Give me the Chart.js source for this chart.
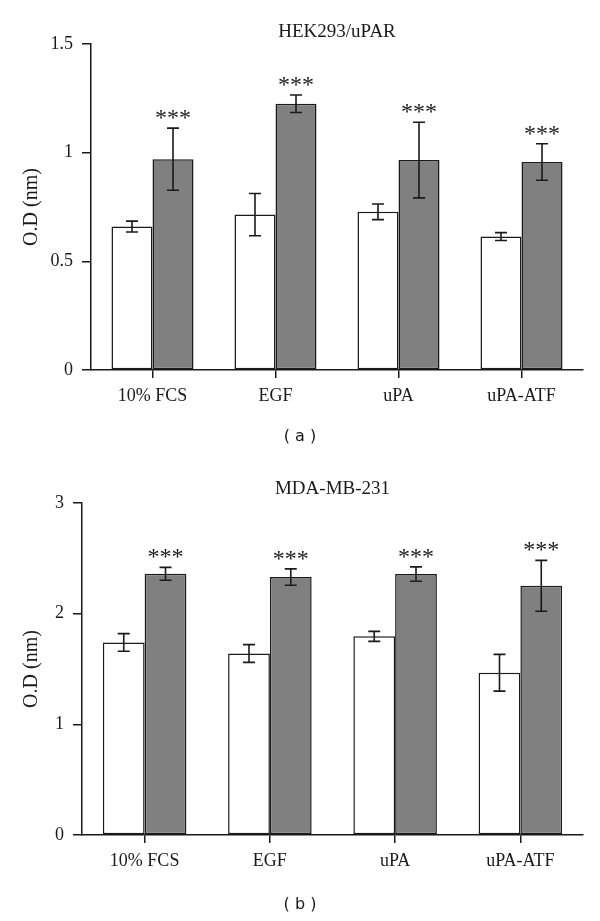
<!DOCTYPE html>
<html lang="en">
<head>
  <meta charset="UTF-8" />
  <title>O.D bars</title>
  <script src="https://cdn.jsdelivr.net/npm/chart.js"></script>
  <style>
    body { margin: 0; padding: 0; background: #fff; }
    .panel { position: relative; width: 600px; }
    canvas { display: block; }
  </style>
</head>
<body>
  <div class="panel"><canvas id="chartA" width="600" height="460"></canvas></div>
  <div class="panel"><canvas id="chartB" width="600" height="461"></canvas></div>

  <script>
    // categories shared by both panels
    const categories = ['10% FCS', 'EGF', 'uPA', 'uPA-ATF'];

    // (a) HEK293/uPAR
    const whiteA = [0.66, 0.715, 0.728, 0.614];
    const whiteErrA = [0.025, 0.097, 0.036, 0.018];
    const grayA = [0.970, 1.225, 0.966, 0.957];
    const grayErrA = [0.143, 0.040, 0.174, 0.084];
    const yTicksA = [0, 0.5, 1, 1.5];

    // (b) MDA-MB-231
    const whiteB = [1.740, 1.640, 1.795, 1.466];
    const whiteErrB = [0.080, 0.080, 0.045, 0.166];
    const grayB = [2.360, 2.331, 2.358, 2.252];
    const grayErrB = [0.058, 0.074, 0.065, 0.230];
    const yTicksB = [0, 1, 2, 3];

    const starLabels = ['***', '***', '***', '***'];

    const ink = '#1a1a1a';
    const serif = "'Liberation Serif', 'DejaVu Serif', serif";

    // error bars, stars, title and panel letter
    const extras = {
      id: 'extras',
      afterDatasetsDraw(chart, args, opts) {
        const ctx = chart.ctx;
        const y = chart.scales.y;
        ctx.save();
        ctx.strokeStyle = ink;
        ctx.lineWidth = 1.6;
        chart.data.datasets.forEach((ds, di) => {
          const meta = chart.getDatasetMeta(di);
          meta.data.forEach((bar, i) => {
            const v = ds.data[i], e = ds.errors[i];
            const top = y.getPixelForValue(v + e);
            const bot = y.getPixelForValue(v - e);
            ctx.beginPath();
            ctx.moveTo(bar.x, top); ctx.lineTo(bar.x, bot);
            ctx.moveTo(bar.x - 6, top); ctx.lineTo(bar.x + 6, top);
            ctx.moveTo(bar.x - 6, bot); ctx.lineTo(bar.x + 6, bot);
            ctx.stroke();
            if (ds.stars) {
              ctx.fillStyle = ink;
              ctx.font = '24px ' + serif;
              ctx.textAlign = 'center';
              ctx.textBaseline = 'alphabetic';
              ctx.fillText(ds.stars[i], bar.x, top - 3);
            }
          });
        });
        const area = chart.chartArea;
        ctx.fillStyle = ink;
        ctx.textAlign = 'center';
        ctx.textBaseline = 'middle';
        ctx.font = '19px ' + serif;
        ctx.fillText(opts.title, (area.left + area.right) / 2, area.top - opts.titleGap);
        ctx.font = "16px 'DejaVu Sans', sans-serif";
        ctx.fillText(opts.panel, 300, opts.panelY);
        ctx.restore();
      }
    };

    function makeChart(id, white, whiteErr, gray, grayErr, ticks, o) {
      return new Chart(document.getElementById(id), {
        type: 'bar',
        data: {
          labels: categories,
          datasets: [
            { data: white, errors: whiteErr, backgroundColor: '#ffffff' },
            { data: gray, errors: grayErr, stars: starLabels, backgroundColor: '#808080' }
          ]
        },
        plugins: [extras],
        options: {
          responsive: false,
          animation: false,
          events: [],
          datasets: {
            bar: {
              borderColor: ink,
              borderWidth: 1.5,
              borderSkipped: false,
              categoryPercentage: 0.667,
              barPercentage: 1.0
            }
          },
          layout: { padding: { left: 16, right: 17, top: o.top, bottom: 0 } },
          plugins: {
            legend: { display: false },
            tooltip: { enabled: false },
            extras: o
          },
          scales: {
            x: {
              grid: { display: true, drawOnChartArea: false, offset: false, color: ink, lineWidth: 1.5, tickLength: 8 },
              border: { display: true, color: ink, width: 1.5 },
              ticks: { color: ink, font: { family: serif, size: 18 }, padding: 7 },
              afterFit(s) { s.height = o.xHeight; }
            },
            y: {
              min: ticks[0],
              max: ticks[ticks.length - 1],
              afterBuildTicks(s) { s.ticks = ticks.map(v => ({ value: v })); },
              grid: { display: true, drawOnChartArea: false, color: ink, lineWidth: 1.5, tickLength: 9 },
              border: { display: true, color: ink, width: 1.5 },
              ticks: { color: ink, font: { family: serif, size: 18 }, padding: 9, callback: v => String(v) },
              title: { display: true, text: 'O.D (nm)', color: ink, font: { family: serif, size: 20 } },
              afterFit(s) { s.width = o.yWidth; }
            }
          }
        }
      });
    }

    makeChart('chartA', whiteA, whiteErrA, grayA, grayErrA, yTicksA,
      { title: 'HEK293/uPAR', panel: '( a )', top: 44, titleGap: 12, panelY: 437, xHeight: 90, yWidth: 75 });
    makeChart('chartB', whiteB, whiteErrB, grayB, grayErrB, yTicksB,
      { title: 'MDA-MB-231', panel: '( b )', top: 43, titleGap: 14, panelY: 445, xHeight: 86, yWidth: 66 });
  </script>
</body>
</html>
